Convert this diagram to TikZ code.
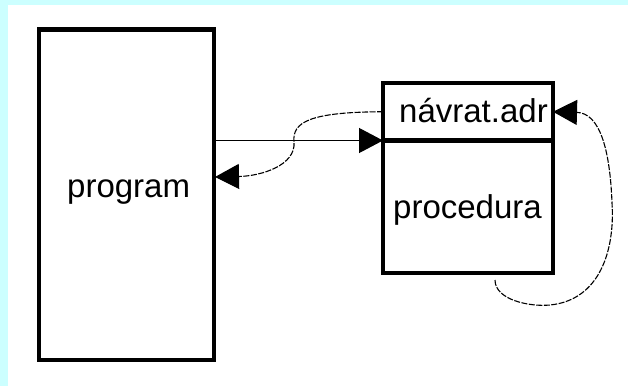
\documentclass[tikz,border=0pt]{standalone}
\usepackage{fontspec}
\setmainfont{Liberation Sans}
\usetikzlibrary{arrows.meta}
\definecolor{bgcyan}{RGB}{204,255,255}
\tikzset{
  boxstyle/.style={draw=black, line width=4.5pt, minimum width=#1, inner sep=0pt, outer sep=0pt},
  lbl/.style={anchor=base west, inner sep=0pt, font=\fontsize{33}{38}\selectfont},
  bigtip/.style={-{Triangle[length=24pt,width=25pt]}},
  solidarrow/.style={bigtip, line width=1.2pt},
  dasharrow/.style={bigtip, line width=1.1pt, dash pattern=on 6pt off 1.5pt}
}
\begin{document}
\begin{tikzpicture}[x=1pt,y=-1pt]
\useasboundingbox (0,0) rectangle (628,386);
\fill[bgcyan] (0,0) rectangle (628,386);
\fill[white] (8,5) rectangle (628,386);
% boxes
\node[boxstyle=175pt, minimum height=330.5pt] (prog) at (126.5,194.75) {};
\node[boxstyle=170pt, minimum height=57.5pt] (adr) at (468,111.75) {};
\node[boxstyle=170pt, minimum height=132.5pt] (proc) at (468,206.75) {};
% labels
\node[lbl] (tprog) at (67,197) {program};
\node[lbl] (tadr) at (399,122) {návrat.adr};
\node[lbl] (tproc) at (393,218) {procedura};
% connectors
\coordinate (ret) at (215,177);
\coordinate (loopstart) at (495,280);
\draw[solidarrow] (prog.east |- adr.south west) -- (adr.south west);
\draw[dasharrow] (adr.west) .. controls (310,112) and (292,122) .. (294,142)
  .. controls (296,165) and (262,176) .. (ret);
\draw[dasharrow] (loopstart) .. controls (495,300) and (530,307) .. (550,305)
  .. controls (600,300) and (615,250) .. (612,203)
  .. controls (610,150) and (600,113) .. (adr.east);
\end{tikzpicture}
\end{document}
